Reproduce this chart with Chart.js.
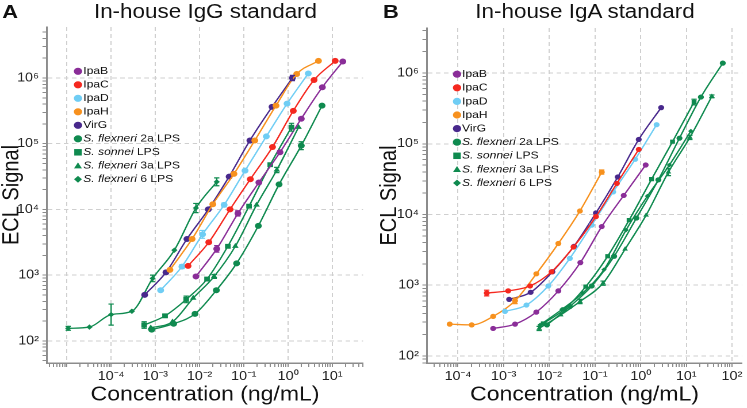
<!DOCTYPE html>
<html><head><meta charset="utf-8">
<script src="https://cdn.jsdelivr.net/npm/chart.js@4.4.1/dist/chart.umd.min.js"></script>
<style>
html,body{margin:0;padding:0;background:#fff;overflow:hidden;width:747px;height:408px;}
#stage{position:absolute;left:0;top:0;width:650px;height:408px;transform:scaleX(1.15);transform-origin:0 0;font-family:"Liberation Sans",Arial,sans-serif;color:#111;}
canvas{position:absolute;top:0;}
.ttl{position:absolute;top:2px;font-size:19.5px;line-height:1;white-space:nowrap;transform:translateX(-50%);}
.lett{position:absolute;top:2px;font-size:19px;font-weight:bold;line-height:1;}
</style></head><body>
<div id="stage">
<canvas id="cA" width="322" height="408" style="left:0;width:322px;height:408px"></canvas>
<canvas id="cB" width="327" height="408" style="left:322px;width:327px;height:408px"></canvas>
<div class="lett" style="left:2px">A</div>
<div class="ttl" style="left:178.7px">In-house IgG standard</div>
<div class="lett" style="left:333px">B</div>
<div class="ttl" style="left:508.7px">In-house IgA standard</div>
</div>
<script>
// ---------- series names ----------
const seriesItalic = ['', '', '', '', '', 'S. flexneri', 'S. sonnei', 'S. flexneri', 'S. flexneri'];
const seriesPlain  = ['IpaB', 'IpaC', 'IpaD', 'IpaH', 'VirG', ' 2a LPS', ' LPS', ' 3a LPS', ' 6 LPS'];

// ---------- tick labels ----------
const iggXTickValues = [1e-4, 1e-3, 1e-2, 1e-1, 1, 10];
const iggXTickLabels = ['10⁻⁴', '10⁻³', '10⁻²', '10⁻¹', '10⁰', '10¹'];
const igaXTickValues = [1e-4, 1e-3, 1e-2, 1e-1, 1, 10, 100];
const igaXTickLabels = ['10⁻⁴', '10⁻³', '10⁻²', '10⁻¹', '10⁰', '10¹', '10²'];
const yTickValues = [1e2, 1e3, 1e4, 1e5, 1e6];
const yTickLabels = ['10²', '10³', '10⁴', '10⁵', '10⁶'];

// ---------- Panel A: IgG ----------
const iggIpaB_conc = [0.0083, 0.0245, 0.074, 0.22, 0.66, 2.0, 6.0, 17.4];
const iggIpaB_ecl  = [955, 2510, 8700, 25700, 74000, 240000, 724000, 1780000];
const iggIpaB_err  = [0, 0.05, 0.04, 0, 0, 0, 0, 0];
const iggIpaC_conc = [0.0055, 0.0162, 0.049, 0.141, 0.447, 1.32, 3.89, 11.7];
const iggIpaC_ecl  = [1380, 3160, 10000, 28800, 89000, 316000, 933000, 1820000];
const iggIpaD_conc = [0.00132, 0.0040, 0.0117, 0.036, 0.107, 0.324, 0.955, 2.88];
const iggIpaD_ecl  = [589, 1350, 4170, 11700, 38900, 129000, 407000, 1170000];
const iggIpaD_err  = [0, 0.03, 0.06, 0.03, 0, 0, 0, 0];
const iggIpaH_conc = [0.00214, 0.0068, 0.020, 0.060, 0.178, 0.537, 1.58, 4.9];
const iggIpaH_ecl  = [1200, 3550, 12000, 34700, 112000, 380000, 1150000, 1820000];
const iggVirG_conc = [0.000575, 0.00174, 0.0052, 0.0158, 0.0468, 0.138, 0.437, 1.26];
const iggVirG_ecl  = [500, 1100, 3550, 10000, 31600, 112000, 363000, 1000000];
const iggVirG_err  = [0, 0, 0, 0, 0, 0, 0, 0.04];
const iggSf2a_conc = [0.00083, 0.0026, 0.0079, 0.024, 0.069, 0.214, 0.63, 2.0, 5.9];
const iggSf2a_ecl  = [148, 182, 257, 589, 1510, 5620, 24000, 93300, 380000];
const iggSf2a_err  = [0, 0, 0, 0, 0, 0, 0, 0.06, 0];
const iggSs_conc   = [0.00056, 0.00166, 0.0050, 0.0148, 0.0437, 0.132, 0.398, 1.2];
const iggSs_ecl    = [174, 240, 427, 871, 2750, 11200, 47900, 178000];
const iggSs_err    = [0.05, 0.02, 0.05, 0, 0, 0, 0, 0.06];
const iggSf3a_conc = [0.00079, 0.00245, 0.0072, 0.0214, 0.0646, 0.195, 0.56, 1.74];
const iggSf3a_ecl  = [158, 195, 447, 955, 2750, 11700, 39800, 178000];
const iggSf3a_err  = [0, 0, 0, 0.03, 0, 0, 0.04, 0];
const iggSf6_conc  = [1.07e-5, 3.24e-5, 1.0e-4, 2.95e-4, 8.7e-4, 0.0027, 0.0083, 0.0245];
const iggSf6_ecl   = [155, 162, 251, 282, 891, 2400, 10500, 26300];
const iggSf6_err   = [0.03, 0, 0.16, 0, 0.05, 0, 0.07, 0.06];

// ---------- Panel B: IgA ----------
const igaIpaB_conc = [0.00059, 0.00178, 0.0052, 0.0158, 0.0479, 0.141, 0.427, 1.29];
const igaIpaB_ecl  = [245, 282, 417, 832, 2090, 6760, 18600, 50100];
const igaIpaC_conc = [0.000427, 0.00126, 0.0038, 0.0112, 0.0339, 0.105, 0.302, 0.912];
const igaIpaC_ecl  = [776, 832, 977, 1550, 3470, 9330, 27500, 83200];
const igaIpaC_err  = [0.04, 0, 0, 0, 0, 0, 0, 0];
const igaIpaD_conc = [0.00107, 0.00316, 0.0095, 0.0282, 0.085, 0.251, 0.76, 2.24];
const igaIpaD_ecl  = [427, 525, 977, 2400, 7080, 20900, 60300, 186000];
const igaIpaH_conc = [6.6e-5, 0.0002, 0.00059, 0.00178, 0.0052, 0.0158, 0.0468, 0.141];
const igaIpaH_ecl  = [282, 275, 363, 603, 1450, 3890, 11200, 39800];
const igaIpaH_err  = [0, 0, 0, 0.04, 0, 0, 0, 0.03];
const igaVirG_conc = [0.00132, 0.0039, 0.0117, 0.0347, 0.105, 0.316, 0.91, 2.82];
const igaVirG_ecl  = [631, 794, 1550, 3550, 10500, 33900, 115000, 324000];
const igaSf2a_conc = [0.0089, 0.0282, 0.085, 0.263, 0.81, 2.45, 7.1, 20.9, 63];
const igaSf2a_ecl  = [275, 501, 977, 2570, 8910, 30900, 120000, 457000, 1380000];
const igaSs_conc   = [0.0074, 0.0214, 0.063, 0.19, 0.56, 1.74, 5.0, 14.8];
const igaSs_ecl    = [288, 457, 955, 2570, 8320, 31600, 107000, 389000];
const igaSs_err    = [0, 0, 0, 0, 0, 0, 0, 0.04];
const igaSf3a_conc = [0.006, 0.0178, 0.047, 0.151, 0.457, 1.32, 4.07, 12.0, 36.3];
const igaSf3a_ecl  = [245, 380, 589, 1070, 3240, 9770, 39800, 123000, 468000];
const igaSf3a_err  = [0.03, 0, 0.03, 0.03, 0, 0, 0.05, 0.03, 0.02];
const igaSf6_conc  = [0.0063, 0.019, 0.054, 0.158, 0.479, 1.41, 4.27, 12.6];
const igaSf6_ecl   = [275, 457, 776, 1660, 6030, 18200, 50100, 151000];

// ---------- styles ----------
const COLORS = ['#8a2d98', '#f5281f', '#6fcdf4', '#f7911e', '#48288c', '#0f8a4f', '#0f8a4f', '#0f8a4f', '#0f8a4f'];
const STYLES = ['circle', 'circle', 'circle', 'circle', 'circle', 'circle', 'rect', 'triangle', 'rectRot'];
const FONT = '"Liberation Sans", Arial, sans-serif';

function pts(xs, ys) { return xs.map((x, i) => ({x: x, y: ys[i]})); }

function makeDatasets(list, radius) {
  return list.map((s, i) => ({
    label: seriesItalic[i] + seriesPlain[i],
    italicPart: seriesItalic[i],
    plainPart: seriesPlain[i],
    data: pts(s[0], s[1]),
    errs: s[2] || null,
    showLine: true,
    cubicInterpolationMode: 'monotone',
    borderColor: COLORS[i],
    backgroundColor: COLORS[i],
    borderWidth: 1.3,
    pointStyle: STYLES[i],
    pointRadius: STYLES[i] === 'rectRot' ? radius * 0.9 : (STYLES[i] === 'rect' ? radius * 1.15 : (STYLES[i] === 'triangle' ? radius * 1.1 : radius)),
    pointBorderWidth: 0,
    pointHoverRadius: radius
  }));
}

function drawMarker(ctx, style, x, y, r, color) {
  ctx.save();
  ctx.fillStyle = color;
  ctx.beginPath();
  if (style === 'circle') { ctx.arc(x, y, r, 0, Math.PI * 2); }
  else if (style === 'rect') { const h = r * 0.9; ctx.rect(x - h, y - h, 2 * h, 2 * h); }
  else if (style === 'triangle') { const h = r * 0.95; ctx.moveTo(x, y - h); ctx.lineTo(x + h, y + h * 0.75); ctx.lineTo(x - h, y + h * 0.75); ctx.closePath(); }
  else { const h = r * 0.95; ctx.moveTo(x, y - h); ctx.lineTo(x + h, y); ctx.lineTo(x, y + h); ctx.lineTo(x - h, y); ctx.closePath(); }
  ctx.fill();
  ctx.restore();
}

const insideLegend = {
  id: 'insideLegend',
  afterDraw(chart, args, o) {
    const ctx = chart.ctx;
    chart.data.datasets.forEach((ds, i) => {
      const y = o.y0 + i * o.dy;
      drawMarker(ctx, ds.pointStyle, o.mx, y, o.r, ds.borderColor);
      ctx.save();
      ctx.fillStyle = '#111';
      ctx.textBaseline = 'middle';
      ctx.textAlign = 'left';
      let x = o.tx;
      if (ds.italicPart) {
        ctx.font = 'italic ' + o.size + 'px ' + FONT;
        ctx.fillText(ds.italicPart, x, y);
        x += ctx.measureText(ds.italicPart).width;
      }
      ctx.font = o.size + 'px ' + FONT;
      ctx.fillText(ds.plainPart, x, y);
      ctx.restore();
    });
  }
};

const errorBars = {
  id: 'errorBars',
  afterDatasetsDraw(chart) {
    const ctx = chart.ctx, ys = chart.scales.y;
    chart.data.datasets.forEach((ds, di) => {
      if (!ds.errs) return;
      const meta = chart.getDatasetMeta(di);
      ds.errs.forEach((e, i) => {
        if (!e) return;
        const p = meta.data[i];
        const v = ds.data[i].y;
        const yt = ys.getPixelForValue(v * Math.pow(10, e));
        const yb = ys.getPixelForValue(v / Math.pow(10, e));
        ctx.save();
        ctx.strokeStyle = ds.borderColor;
        ctx.lineWidth = 1.2;
        ctx.beginPath();
        ctx.moveTo(p.x, yt); ctx.lineTo(p.x, yb);
        ctx.moveTo(p.x - 2.3, yt); ctx.lineTo(p.x + 2.3, yt);
        ctx.moveTo(p.x - 2.3, yb); ctx.lineTo(p.x + 2.3, yb);
        ctx.stroke();
        ctx.restore();
      });
    });
  }
};

function logTicks(min, max) {
  const t = [];
  for (let d = Math.floor(Math.log10(min)); d <= Math.ceil(Math.log10(max)); d++) {
    for (let m = 1; m <= 9; m++) {
      const v = parseFloat(m + 'e' + d);
      if (v >= min && v <= max) t.push({value: v, major: m === 1});
    }
  }
  return t;
}

function labelFor(values, labels) {
  return function (value, index, ticks) {
    if (!ticks[index].major) return '';
    for (let k = 0; k < values.length; k++) {
      if (Math.abs(Math.log10(values[k]) - Math.log10(value)) < 1e-6) return labels[k];
    }
    return '';
  };
}

function axisCommon(min, max) {
  return {
    type: 'logarithmic',
    min: min, max: max,
    bounds: 'data',
    afterBuildTicks: (s) => { s.ticks = logTicks(min, max); },
    grid: {
      color: (c) => (c.tick && c.tick.major) ? '#cfcfcf' : 'rgba(0,0,0,0)',
      lineWidth: 1,
      drawTicks: true,
      tickLength: 4,
      tickWidth: 1,
      tickColor: '#8c8c8c'
    },
    border: {display: true, color: '#8c8c8c', width: 1.5, dash: [4, 3]}
  };
}

function build(canvasId, ds, cfg) {
  const xs = axisCommon(cfg.xmin, cfg.xmax);
  xs.afterFit = (s) => { s.height = 45; };
  xs.ticks = {autoSkip: false, maxRotation: 0, minRotation: 0, padding: 2,
              color: '#222', font: {family: FONT, size: 12.5},
              callback: labelFor(cfg.xTickValues, cfg.xTickLabels)};
  xs.title = {display: true, text: 'Concentration (ng/mL)', color: '#111',
              font: {family: FONT, size: 20, lineHeight: 1}, padding: {top: 0, bottom: 3}};
  const ysc = axisCommon(cfg.ymin, cfg.ymax);
  ysc.afterFit = (s) => { s.width = cfg.yWidth; };
  ysc.ticks = {autoSkip: false, padding: 3, color: '#222', font: {family: FONT, size: 12.5},
               callback: labelFor(yTickValues, yTickLabels)};
  ysc.title = {display: true, text: 'ECL Signal', color: '#111',
               font: {family: FONT, size: 20, lineHeight: 1}, padding: {top: cfg.yTitlePad, bottom: 0}};
  return new Chart(document.getElementById(canvasId), {
    type: 'scatter',
    data: {datasets: ds},
    options: {
      responsive: false,
      devicePixelRatio: 2,
      animation: false,
      events: [],
      layout: {padding: {left: 0, right: cfg.padRight, top: cfg.padTop, bottom: 0}},
      plugins: {legend: {display: false}, tooltip: {enabled: false}, title: {display: false},
                insideLegend: cfg.legend},
      scales: {x: xs, y: ysc}
    },
    plugins: [errorBars, insideLegend]
  });
}

build('cA', makeDatasets([
  [iggIpaB_conc, iggIpaB_ecl, iggIpaB_err],
  [iggIpaC_conc, iggIpaC_ecl],
  [iggIpaD_conc, iggIpaD_ecl, iggIpaD_err],
  [iggIpaH_conc, iggIpaH_ecl],
  [iggVirG_conc, iggVirG_ecl, iggVirG_err],
  [iggSf2a_conc, iggSf2a_ecl, iggSf2a_err],
  [iggSs_conc, iggSs_ecl, iggSs_err],
  [iggSf3a_conc, iggSf3a_ecl, iggSf3a_err],
  [iggSf6_conc, iggSf6_ecl, iggSf6_err]
], 3), {
  xmin: 3.56e-6, xmax: 50, ymin: 46, ymax: 5.97e6,
  xTickValues: iggXTickValues, xTickLabels: iggXTickLabels,
  yWidth: 40.9, yTitlePad: 0.5, padRight: 6.3, padTop: 27,
  legend: {mx: 67.8, tx: 72.4, y0: 71.3, dy: 13.5, r: 3.6, size: 10.5}
});

build('cB', makeDatasets([
  [igaIpaB_conc, igaIpaB_ecl],
  [igaIpaC_conc, igaIpaC_ecl, igaIpaC_err],
  [igaIpaD_conc, igaIpaD_ecl],
  [igaIpaH_conc, igaIpaH_ecl, igaIpaH_err],
  [igaVirG_conc, igaVirG_ecl],
  [igaSf2a_conc, igaSf2a_ecl],
  [igaSs_conc, igaSs_ecl, igaSs_err],
  [igaSf3a_conc, igaSf3a_ecl, igaSf3a_err],
  [igaSf6_conc, igaSf6_ecl]
], 2.6), {
  xmin: 2.1e-5, xmax: 166, ymin: 79.6, ymax: 4.33e6,
  xTickValues: igaXTickValues, xTickLabels: igaXTickLabels,
  yWidth: 49.3, yTitlePad: 7, padRight: 3.8, padTop: 28,
  legend: {mx: 75.4, tx: 79.8, y0: 74.2, dy: 13.6, r: 3.6, size: 10.5}
});
</script>
</body></html>
